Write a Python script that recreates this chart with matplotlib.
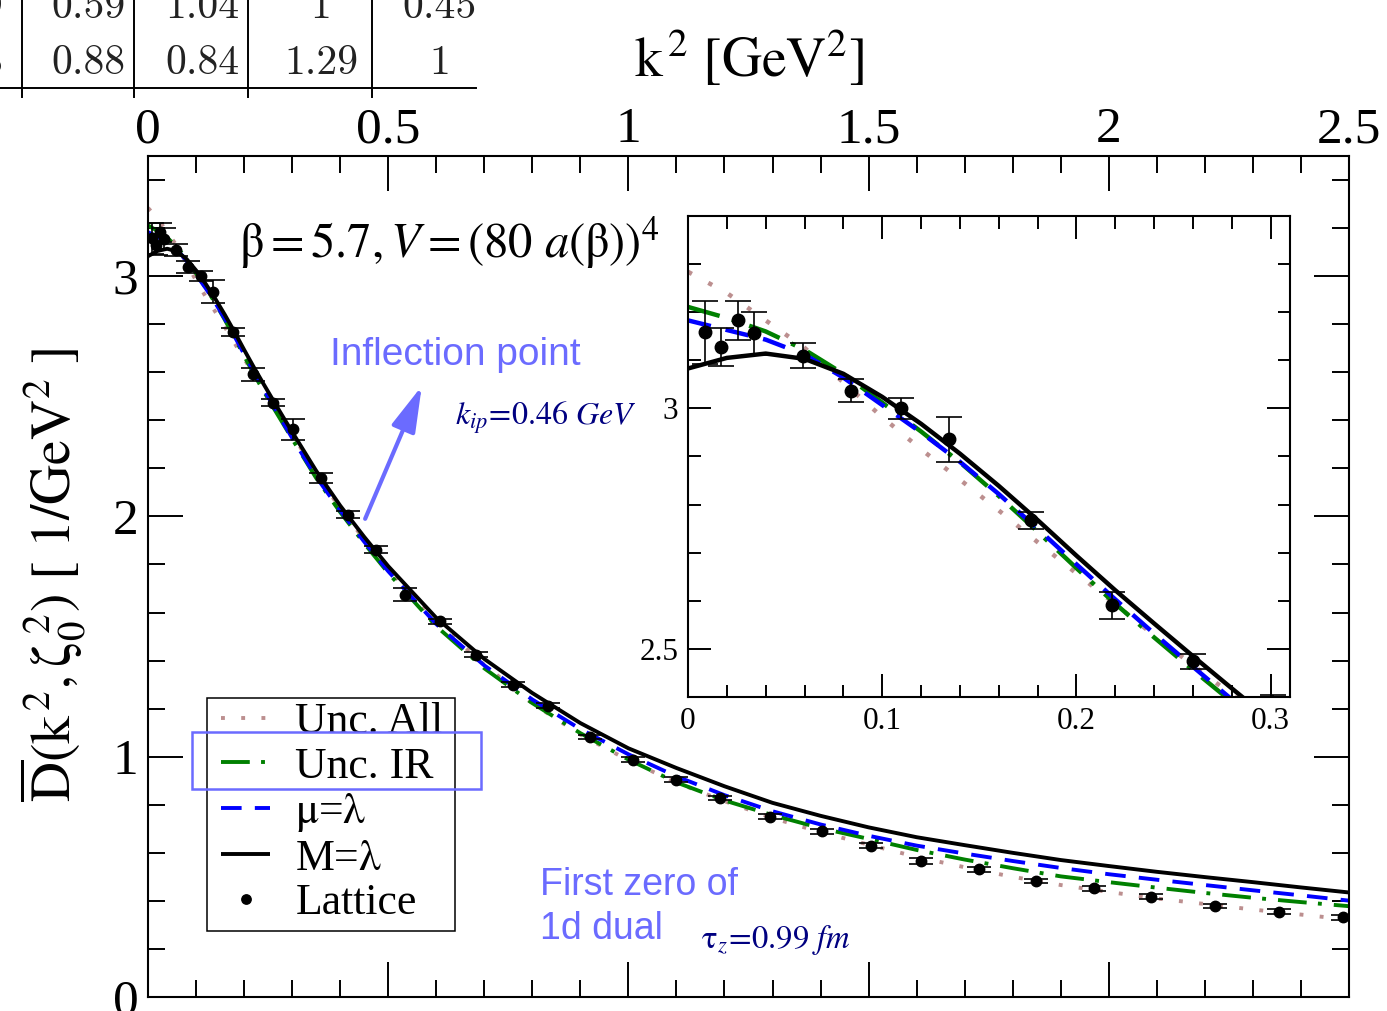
"""Gluon propagator fits vs lattice data, with a zoomed inset of the IR region."""

import matplotlib

matplotlib.use("Agg")
import matplotlib.pyplot as plt  # noqa: E402
from matplotlib.patches import Rectangle  # noqa: E402
from matplotlib.ticker import FuncFormatter, MultipleLocator  # noqa: E402

W, H = 1387, 1011
OUTPUT_PATH = "out.png"

# fitted curves
K2_FIT = [0.0, 0.02, 0.04, 0.06, 0.08, 0.10, 0.12, 0.14, 0.16, 0.18, 0.20,
          0.22, 0.24, 0.26, 0.28, 0.30, 0.35, 0.40, 0.45, 0.50, 0.60, 0.70,
          0.80, 0.90, 1.0, 1.1, 1.2, 1.3, 1.4, 1.5, 1.6, 1.7, 1.8, 1.9, 2.0,
          2.1, 2.2, 2.3, 2.4, 2.5]
UNC_ALL = [3.284, 3.240, 3.183, 3.126, 3.054, 2.982, 2.915, 2.852, 2.788,
           2.722, 2.657, 2.593, 2.528, 2.466, 2.405, 2.345, 2.178, 2.035,
           1.905, 1.782, 1.562, 1.382, 1.222, 1.092, 0.985, 0.892, 0.815,
           0.745, 0.686, 0.634, 0.583, 0.540, 0.500, 0.466, 0.437, 0.410,
           0.387, 0.364, 0.343, 0.322]
UNC_IR = [3.211, 3.188, 3.160, 3.122, 3.072, 3.012, 2.952, 2.888, 2.818,
          2.744, 2.668, 2.594, 2.524, 2.456, 2.390, 2.323, 2.160, 2.018,
          1.888, 1.765, 1.543, 1.368, 1.223, 1.098, 0.988, 0.893, 0.818,
          0.757, 0.703, 0.658, 0.612, 0.572, 0.536, 0.502, 0.478, 0.455,
          0.433, 0.413, 0.395, 0.378]
MU_LAMBDA = [3.183, 3.163, 3.143, 3.112, 3.064, 3.007, 2.950, 2.889, 2.822,
             2.750, 2.676, 2.603, 2.532, 2.463, 2.395, 2.327, 2.165, 2.025,
             1.895, 1.772, 1.552, 1.380, 1.238, 1.115, 1.010, 0.918, 0.840,
             0.773, 0.718, 0.671, 0.630, 0.597, 0.566, 0.537, 0.511, 0.488,
             0.466, 0.444, 0.423, 0.401]
M_LAMBDA = [3.083, 3.105, 3.114, 3.103, 3.072, 3.024, 2.968, 2.906, 2.839,
            2.768, 2.694, 2.622, 2.553, 2.485, 2.418, 2.352, 2.190, 2.045,
            1.915, 1.793, 1.578, 1.407, 1.265, 1.140, 1.035, 0.953, 0.877,
            0.808, 0.754, 0.706, 0.665, 0.632, 0.600, 0.570, 0.545, 0.521,
            0.499, 0.478, 0.456, 0.435]

# lattice points
K2_LAT = [0.0085, 0.0171, 0.0257, 0.0338, 0.0593, 0.084, 0.1095, 0.1346,
          0.1765, 0.2183, 0.260, 0.301, 0.360, 0.417, 0.475, 0.535, 0.608,
          0.683, 0.760, 0.832, 0.921, 1.010, 1.100, 1.190, 1.294, 1.402,
          1.506, 1.610, 1.730, 1.849, 1.969, 2.088, 2.221, 2.355, 2.488]
D_LAT = [3.158, 3.128, 3.183, 3.156, 3.109, 3.037, 3.000, 2.936, 2.767,
         2.591, 2.474, 2.362, 2.161, 2.008, 1.862, 1.675, 1.564, 1.425,
         1.300, 1.212, 1.082, 0.988, 0.904, 0.828, 0.751, 0.689, 0.629,
         0.567, 0.532, 0.483, 0.453, 0.418, 0.379, 0.355, 0.332]
D_ERR = [0.065, 0.040, 0.040, 0.045, 0.026, 0.024, 0.021, 0.047, 0.017,
         0.028, 0.016, 0.043, 0.021, 0.013, 0.015, 0.026, 0.010, 0.012,
         0.010, 0.010, 0.010, 0.010, 0.010, 0.010, 0.010, 0.010, 0.010,
         0.012, 0.010, 0.010, 0.010, 0.010, 0.010, 0.010, 0.010]

# cropped table from the figure above
TABLE_ROW1 = ["9", "0.59", "1.04", "1", "0.45"]
TABLE_ROW2 = ["8", "0.88", "0.84", "1.29", "1"]
TABLE_COL_X = [-8, 88, 202, 321, 440]
TABLE_RULES_X = [22, 134, 248, 372]

HIGHLIGHT = "#6b6bff"
NAVY = "#000080"

CURVES = [
    ("Unc. All", UNC_ALL, dict(color="rosybrown", dashes=(1, 4.2))),
    ("Unc. IR", UNC_IR, dict(color="green", dashes=(7.4, 2.9, 1.0, 3.1))),
    (r"$\mathrm{\mu}$=$\mathrm{\lambda}$", MU_LAMBDA,
     dict(color="blue", dashes=(5.3, 3.4))),
    (r"M=$\mathrm{\lambda}$", M_LAMBDA, dict(color="black")),
]


def fxy(x, y):
    """pixel position in the reference -> figure fraction"""
    return x / W, 1 - y / H


def gfmt(v, _):
    return f"{v:g}"


def draw_data(a, lw, ms, cap):
    for label, ys, style in CURVES:
        a.plot(K2_FIT, ys, label=label, lw=lw, solid_capstyle="butt", **style)
    a.errorbar(K2_LAT, D_LAT, yerr=D_ERR, fmt="none", ecolor="k",
               elinewidth=1.2, capsize=cap, capthick=1.2)
    a.plot(K2_LAT, D_LAT, "o", color="k", ms=ms, label="Lattice")


def run() -> None:
    plt.rcParams["font.family"] = ["Liberation Serif", "DejaVu Serif"]
    plt.rcParams["mathtext.fontset"] = "stix"

    fig = plt.figure(figsize=(W / 100, H / 100), dpi=100)
    ax = fig.add_axes([148 / W, 1 - 997 / H, 1201 / W, 841 / H])
    ins = fig.add_axes([688 / W, 1 - 697 / H, 602 / W, 481 / H])

    draw_data(ax, 2.8, 7.5, 8.5)
    draw_data(ins, 3.2, 9, 9.4)

    # main axes
    ax.set_xlim(0, 2.5)
    ax.set_ylim(0, 3.5)
    ax.xaxis.set_major_locator(MultipleLocator(0.5))
    ax.xaxis.set_minor_locator(MultipleLocator(0.1))
    ax.yaxis.set_major_locator(MultipleLocator(1))
    ax.yaxis.set_minor_locator(MultipleLocator(0.2))
    ax.xaxis.set_major_formatter(FuncFormatter(gfmt))
    ax.yaxis.set_major_formatter(FuncFormatter(gfmt))
    ax.tick_params(which="both", direction="in", top=True, bottom=True,
                   left=True, right=True, labeltop=True, labelbottom=False,
                   width=1.4, labelsize=37)
    ax.tick_params(which="major", length=25)
    ax.tick_params(which="minor", length=12)
    ax.tick_params(axis="x", pad=2)
    ax.tick_params(axis="y", pad=7)
    for sp in ax.spines.values():
        sp.set_linewidth(1.5)

    # inset
    ins.set_xlim(0, 0.31)
    ins.set_ylim(2.4, 3.4)
    ins.xaxis.set_major_locator(MultipleLocator(0.1))
    ins.xaxis.set_minor_locator(MultipleLocator(0.02))
    ins.yaxis.set_major_locator(MultipleLocator(0.5))
    ins.yaxis.set_minor_locator(MultipleLocator(0.1))
    ins.xaxis.set_major_formatter(FuncFormatter(gfmt))
    ins.yaxis.set_major_formatter(FuncFormatter(gfmt))
    ins.tick_params(which="both", direction="in", top=True, bottom=True,
                    left=True, right=True, width=1.4, labelsize=22.5, pad=7)
    ins.tick_params(which="major", length=16.5)
    ins.tick_params(which="minor", length=9)
    for sp in ins.spines.values():
        sp.set_linewidth(1.5)

    # legend: entries from the main axes, box drawn at the reference spot
    handles, labels = ax.get_legend_handles_labels()
    ax.legend(handles, labels, loc="upper left",
              bbox_to_anchor=fxy(217, 698), bbox_transform=fig.transFigure,
              borderaxespad=0, fontsize=31.5, frameon=False, borderpad=0.1,
              labelspacing=0.1, handlelength=1.12, handletextpad=0.57,
              markerscale=0.9)
    fig.add_artist(Rectangle(fxy(207, 931), 248 / W, 233 / H, fill=False,
                             ec="black", lw=1.1, transform=fig.transFigure))
    fig.add_artist(Rectangle(fxy(192, 789), 289 / W, 57 / H, fill=False,
                             ec=HIGHLIGHT, lw=1.8, transform=fig.transFigure))

    # axis labels
    fig.text(*fxy(749, 77), r"$\mathrm{k}^{\,2}\ [\mathrm{GeV}^{2}]$",
             ha="center", va="baseline", fontsize=40)
    fig.text(*fxy(53, 575),
             r"$\overline{\mathrm{D}}(\mathrm{k}^{\,2},\mathrm{\zeta}_0^{\;2})\ [\ 1/\mathrm{GeV}^{2}\ ]$",
             ha="center", va="center", rotation=90, fontsize=40)

    # annotations
    fig.text(*fxy(239, 258),
             r"$\mathrm{\beta}=5.7,V=\left(80\ a\left(\mathrm{\beta}\right)\right)^{4}$",
             ha="left", va="baseline", fontsize=35)
    fig.text(*fxy(330, 365), "Inflection point", ha="left", va="baseline",
             fontsize=28, color=HIGHLIGHT, family="Liberation Sans")
    fig.text(*fxy(455, 425), r"$k_{ip}\!=\!0.46\ GeV$", ha="left",
             va="baseline", fontsize=23, color=NAVY)
    ax.annotate("", xy=(0.570, 2.543), xytext=(0.452, 1.99),
                arrowprops=dict(arrowstyle="-|>,head_length=1.4,head_width=0.38",
                                mutation_scale=20, color=HIGHLIGHT, lw=3,
                                shrinkA=0, shrinkB=0))
    fig.text(*fxy(540, 895), "First zero of", ha="left", va="baseline",
             fontsize=27, color=HIGHLIGHT, family="Liberation Sans")
    fig.text(*fxy(540, 939), "1d dual", ha="left", va="baseline",
             fontsize=27, color=HIGHLIGHT, family="Liberation Sans")
    fig.text(*fxy(701, 948), r"$\mathrm{\tau}_z\!=\!0.99\ fm$", ha="left",
             va="baseline", fontsize=23.5, color=NAVY)

    # cropped table at the top left
    for xr in TABLE_RULES_X:
        fig.add_artist(plt.Line2D([xr / W, xr / W], [1, 1 - 97 / H],
                                  transform=fig.transFigure, color="k", lw=1.4))
    fig.add_artist(plt.Line2D([0, 476 / W], [1 - 88 / H, 1 - 88 / H],
                              transform=fig.transFigure, color="k", lw=1.4))
    for x, t1, t2 in zip(TABLE_COL_X, TABLE_ROW1, TABLE_ROW2):
        fig.text(*fxy(x, 18), t1, ha="center", va="baseline", fontsize=30,
                 family="cmr10", color="#222222")
        fig.text(*fxy(x, 74), t2, ha="center", va="baseline", fontsize=30,
                 family="cmr10", color="#222222")

    fig.savefig(OUTPUT_PATH, dpi=100)
    plt.close(fig)


if __name__ == "__main__":
    run()
